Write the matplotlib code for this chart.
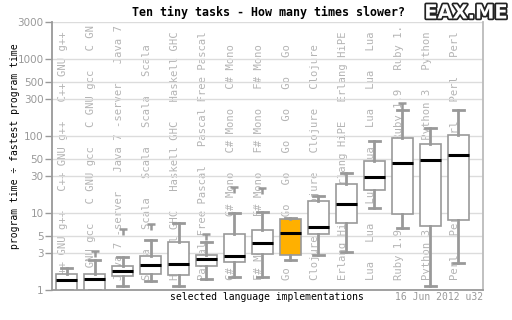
import numpy as np
import matplotlib
matplotlib.use("Agg")
import matplotlib.pyplot as plt
from matplotlib.path import Path
import matplotlib.patheffects as pe

# data
names = ["C++ GNU g++", "C GNU gcc", "Java 7 -server", "Scala", "Haskell GHC",
         "Pascal Free Pascal", "C# Mono", "F# Mono", "Go", "Clojure",
         "Erlang HiPE", "Lua", "Ruby 1.9", "Python 3", "Perl"]
whis_lo = [1.0, 1.0, 1.12, 1.31, 1.12, 1.39, 1.47, 1.46, 2.43, 2.82, 3.08, 11.5, 6.31, 1.12, 2.22]
q1 = [1.0, 1.0, 1.53, 1.60, 1.55, 2.03, 2.29, 2.90, 2.82, 5.28, 7.33, 19.6, 9.59, 6.70, 8.02]
med = [1.36, 1.40, 1.78, 2.13, 2.19, 2.50, 2.79, 4.11, 5.53, 6.56, 13.2, 29.5, 44.4, 48.5, 56.9]
q3 = [1.60, 1.60, 2.03, 2.74, 4.15, 2.82, 5.28, 5.95, 8.26, 14.1, 23.5, 46.7, 92.8, 77.6, 104]
whis_hi = [1.95, 2.43, 2.70, 4.41, 7.39, 4.15, 9.97, 10.4, 8.66, 16.7, 32.9, 86.4, 216, 127, 216]
outliers = [[], [3.20], [6.13], [7.29], [], [5.37], [21.9], [21.2], [], [], [], [], [269], [], []]
highlight = "Go"
yticks = [1, 3, 5, 10, 30, 50, 100, 300, 500, 1000, 3000]

GRAY = "#999999"
MONO = "DejaVu Sans Mono"

fig = plt.figure(figsize=(5.12, 3.2), dpi=100)
ax = fig.add_axes([52/512, 30/320, 431/512, 268/320])

stats = []
for i in range(len(names)):
    stats.append(dict(med=med[i], q1=q1[i], q3=q3[i], whislo=whis_lo[i],
                      whishi=whis_hi[i], fliers=outliers[i], label=names[i]))

# "T" shaped marker for outliers
t_marker = Path([(-1, 0), (1, 0), (0, 0), (0, -1.4)],
                [Path.MOVETO, Path.LINETO, Path.MOVETO, Path.LINETO])

bp = ax.bxp(stats, positions=range(len(names)), widths=0.75, capwidths=0.4,
            patch_artist=True, showfliers=True,
            boxprops=dict(facecolor="white", edgecolor=GRAY, linewidth=1.2),
            whiskerprops=dict(color=GRAY, linewidth=2),
            capprops=dict(color=GRAY, linewidth=2),
            medianprops=dict(color="black", linewidth=2.2),
            flierprops=dict(marker=t_marker, markersize=8, markeredgewidth=1.8,
                            markeredgecolor=GRAY, markerfacecolor="none"))
for patch, n in zip(bp["boxes"], names):
    if n == highlight:
        patch.set_facecolor("#ffb000")
for k in ["boxes", "whiskers", "caps", "medians", "fliers"]:
    for a in bp[k]:
        a.set_zorder(3)

ax.set_yscale("log")
ax.set_ylim(1, 3000)
ax.set_xlim(-0.52, 14.88)

# repeated names in the background of each column
for i, n in enumerate(names):
    s = ((n + "   ") * 12)[:40].rstrip()
    ax.text(i - 0.12, 1.35, s, rotation=90, ha="center", va="bottom",
            family=MONO, fontsize=7.6, color="#b4b4b4", clip_on=True, zorder=0)

ax.set_yticks(yticks)
ax.set_yticklabels([str(t) for t in yticks])
ax.yaxis.set_minor_locator(matplotlib.ticker.NullLocator())
ax.tick_params(axis="y", length=5, width=1, color=GRAY, labelcolor=GRAY,
               labelsize=7.5, pad=1)
ax.set_xticks([])
for t in yticks:
    ax.axhline(t, color="#dcdcdc", linewidth=1, zorder=1)

for side in ["left", "bottom", "right"]:
    ax.spines[side].set_color(GRAY)
    ax.spines[side].set_linewidth(1.3)
ax.spines["right"].set_color("#bbbbbb")
ax.spines["top"].set_visible(False)

fig.text(268/512, 1 - 12/320, "Ten tiny tasks - How many times slower?",
         ha="center", va="center", family=MONO, fontweight="bold", fontsize=8.4)
fig.text(466/512, 1 - 13/320, "EAX.ME", ha="center", va="center",
         fontweight="bold", fontsize=14, color="white",
         path_effects=[pe.withStroke(linewidth=2.5, foreground="#222222")])
fig.text(15/512, 1 - 146/320, "program time \u00f7 fastest program time",
         rotation=90, ha="center", va="center", family=MONO, fontsize=7)
fig.text(266.5/512, 1 - 297/320, "selected language implementations",
         ha="center", va="center", family=MONO, fontsize=7)
fig.text(483/512, 1 - 297/320, "16 Jun 2012 u32", ha="right", va="center",
         family=MONO, fontsize=7, color=GRAY)

fig.savefig("out.png", dpi=100)
